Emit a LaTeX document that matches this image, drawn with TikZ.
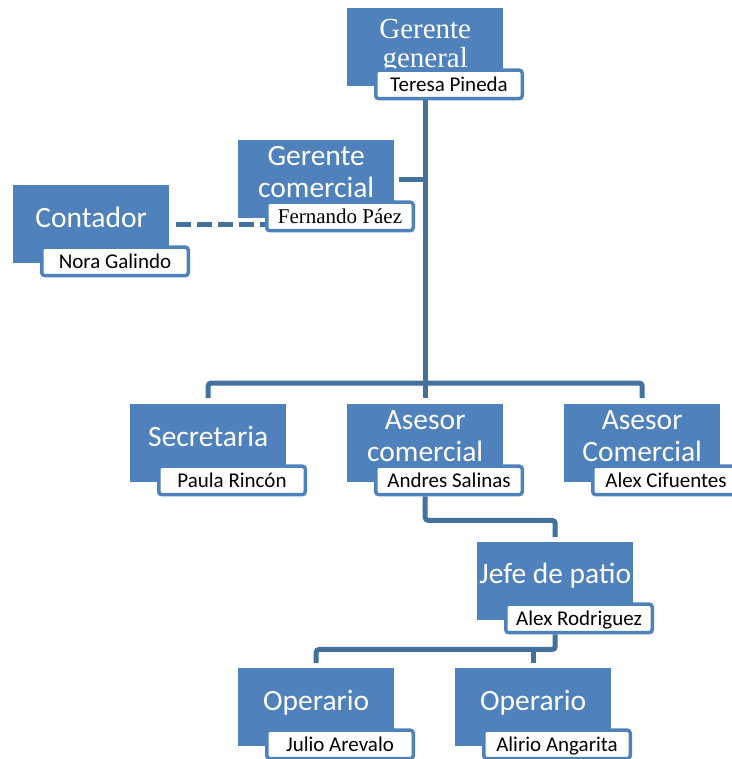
\documentclass[tikz,border=0pt]{standalone}
\usepackage{fontspec}
\newfontfamily\carl{Carlito}
\newfontfamily\tms{Liberation Serif}
\usetikzlibrary{calc}
\pgfdeclarelayer{background}
\pgfsetlayers{background,main}
\definecolor{boxblue}{HTML}{4F81BD}
\definecolor{linkblue}{HTML}{41719C}
\tikzset{
  rolebox/.style={fill=boxblue, minimum width=156pt, minimum height=78pt, inner sep=0pt, anchor=north west},
  rolesans/.style={text=white, font=\carl\fontsize{29.5}{32}\selectfont, align=center, inner sep=0pt},
  roleserif/.style={text=white, font=\tms\fontsize{29}{29}\selectfont, align=center, inner sep=0pt},
  namebox/.style={draw=boxblue, fill=white, line width=3.5pt, rounded corners=3pt,
    minimum width=146.5pt, minimum height=28.5pt, inner sep=0pt,
    text height=13.5pt, text depth=0pt, font=\carl\fontsize{21}{24}\selectfont},
  link/.style={draw=linkblue, line width=5pt, rounded corners=3pt},
  dashlink/.style={draw=linkblue, line width=5pt, dash pattern=on 15pt off 6pt},
}
\begin{document}
\begin{tikzpicture}[x=1pt, y=-1pt]
\useasboundingbox (0,0) rectangle (731,759);

% role boxes
\node[rolebox] (gg)   at (347,8)   {};
\node[rolebox] (gc)   at (238,140) {};
\node[rolebox] (cont) at (13,185)  {};
\node[rolebox] (sec)  at (130,404) {};
\node[rolebox] (ac)   at (347,404) {};
\node[rolebox] (acb)  at (564,404) {};
\node[rolebox] (jefe) at (477,542) {};
\node[rolebox] (opa)  at (238,668) {};
\node[rolebox] (opb)  at (455,668) {};

% role titles
\node[roleserif] (ggt) at ($(gg.north)+(0,38.5)$) {Gerente\\general};
\node[rolesans] (gct) at ($(gc.north)+(0,32.4)$) {Gerente\\comercial};
\node[rolesans, anchor=base] (contt) at ($(cont.north)+(0,42)$) {Contador};
\node[rolesans, anchor=base] (sect) at ($(sec.north)+(0,42)$) {Secretaria};
\node[rolesans] (act) at ($(ac.north)+(0,32.6)$) {Asesor\\comercial};
\node[rolesans] (acbt) at ($(acb.north)+(0,32.6)$) {Asesor\\Comercial};
\node[rolesans, anchor=base] (jefet) at ($(jefe.north)+(0,41)$) {Jefe de patio};
\node[rolesans, anchor=base] (opat) at ($(opa.north)+(0,42)$) {Operario};
\node[rolesans, anchor=base] (opbt) at ($(opb.north)+(0,42)$) {Operario};

% name boxes
\node[namebox] (ggn)   at ($(gg.south west)+(102,-2)$)   {Teresa Pineda};
\node[namebox, font=\tms\fontsize{21}{24}\selectfont] (gcn) at ($(gc.south west)+(102,-2)$) {Fernando Páez};
\node[namebox] (contn) at ($(cont.south west)+(102,-2)$) {Nora Galindo};
\node[namebox] (secn)  at ($(sec.south west)+(102,-2)$)  {Paula Rincón};
\node[namebox] (acn)   at ($(ac.south west)+(102,-2)$)   {Andres Salinas};
\node[namebox] (acbn)  at ($(acb.south west)+(102,-2)$)  {Alex Cifuentes};
\node[namebox] (jefen) at ($(jefe.south west)+(102,-2)$) {Alex Rodriguez};
\node[namebox] (opan)  at ($(opa.south west)+(102,-2)$)  {Julio Arevalo};
\node[namebox] (opbn)  at ($(opb.south west)+(102,-2)$)  {Alirio Angarita};

% connectors
\coordinate (bus) at ($(ac.north)+(0,-21)$);
\coordinate (jb) at ($(jefe.center |- jefen.south)+(0,15)$);
\begin{pgfonlayer}{background}
  \draw[link] (gg.center |- ggn.south) -- ([yshift=6pt]ac.north);
  \draw[link] ([xshift=5pt]gc.east) -- (gc.east -| gg.center);
  \draw[link] ([yshift=6pt]sec.north) -- (sec.north |- bus) -- (acb.north |- bus) -- ([yshift=6pt]acb.north);
  \draw[link] (ac.center |- acn.south) -- ++(0,24) -| ([yshift=5pt]jefe.north);
  \draw[link] (jefe.center |- jefen.south) -- (jb) -- (jb -| opa.north) -- ([yshift=5pt]opa.north);
  \draw[link] (jb -| opb.north) -- ([yshift=5pt]opb.north);
  \draw[dashlink] ([xshift=7pt]cont.east) -- (cont.east -| gcn.west);
\end{pgfonlayer}
\end{tikzpicture}
\end{document}
